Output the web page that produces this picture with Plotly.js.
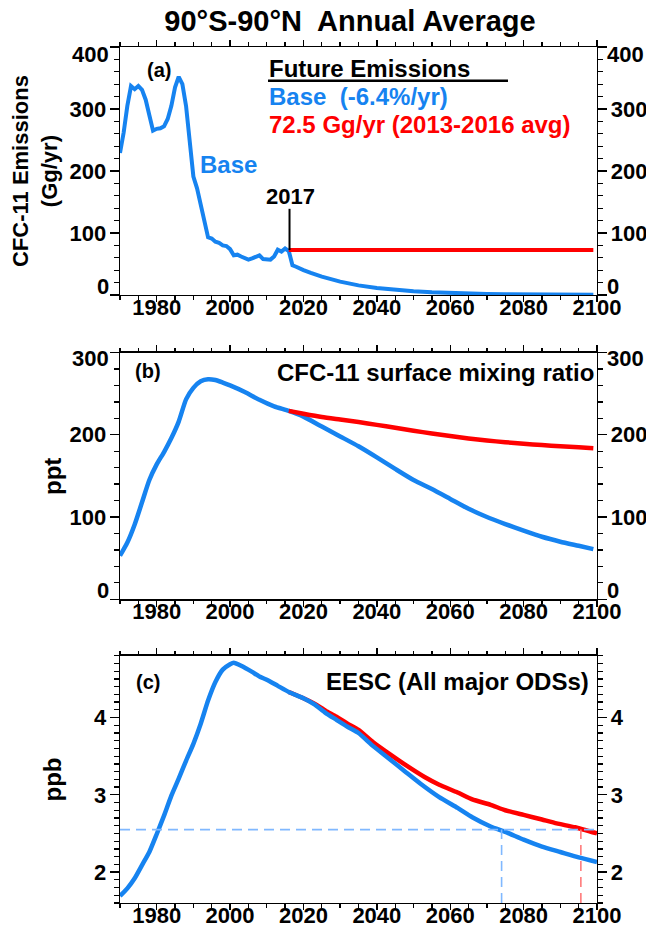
<!DOCTYPE html>
<html>
<head>
<meta charset="utf-8">
<script src="https://cdn.plot.ly/plotly-3.0.1.min.js"></script>
<style>html,body{margin:0;padding:0;background:#fff;}</style>
</head>
<body>
<div id="chart" style="width:646px;height:926px;"></div>
<script>
// ---------- DATA ----------
// (a) CFC-11 emissions, Gg/yr (Base scenario incl. history)
const emisYears = [1970,1971,1972,1973,1974,1975,1976,1977,1978,1979,1980,1981,1982,1983,1984,1985,1986,1987,1988,1989,
  1990,1991,1992,1993,1994,1995,1996,1997,1998,1999,2000,2001,2002,2003,2004,2005,2006,2007,2008,2009,2010,2011,2012,2013,2014,2015,2016,
  2017,2018,2019,2020,2022,2025,2030,2035,2040,2045,2050,2055,2060,2065,2070,2075,2080,2085,2090,2095,2099];
const emisBase = [229,262,305,337,332,337,331,315,290,265,268,269,272,284,305,335,352,340,305,250,
  191,172,147,117,93,91,86,84,80,79,74,64,65,62,60,57,59,61,64,58,57,57,62,73,70,75,71,
  48,45.5,42.5,40,35.5,29.5,21.5,15.5,11.3,8.2,6,4.3,3.1,2.3,1.7,1.2,0.9,0.6,0.45,0.3,0.2];
const emisFixedYears = [2016, 2099];
const emisFixed = [72.5, 72.5];

// (b) CFC-11 surface mixing ratio, ppt
const mrYears = [1970,1972,1974,1976,1978,1980,1982,1984,1986,1988,1990,1992,1994,1996,1998,2000,2004,2008,2012,2016,
  2020,2025,2030,2035,2040,2045,2050,2055,2060,2065,2070,2075,2080,2085,2090,2095,2099];
const mrBase = [53,69,91,118,145,164,179,196,216,243,257,265,267.5,266.5,263.5,260,252,242.5,234.5,229,
  222,210,198,186,172.5,158.5,145,134,122,110,100,91.5,83.5,76,70,65,61];
const mrFixedYears = [2016,2020,2025,2030,2035,2040,2045,2050,2055,2060,2065,2070,2075,2080,2085,2090,2095,2099];
const mrFixed = [229,225.5,221.5,218.5,215.5,212,208.5,205,201.5,198.5,195.5,193,191,189,187.5,186,184.8,183.7];

// (c) EESC (all major ODSs), ppb
const eescYears = [1970,1972,1974,1976,1978,1980,1982,1984,1986,1988,1990,1992,1994,1996,1998,2000,2001,2003,2006,2008,2010,2013,2016,
  2020,2023,2026,2029,2032,2035,2039,2043,2048,2052,2057,2062,2066,2071,2075,2080,2085,2090,2095,2100];
const eescBase = [1.69,1.79,1.92,2.09,2.26,2.49,2.73,2.99,3.21,3.44,3.66,3.92,4.22,4.46,4.62,4.69,4.71,4.67,4.59,4.53,4.49,4.41,4.33,
  4.25,4.17,4.06,3.97,3.88,3.80,3.63,3.48,3.29,3.14,2.97,2.83,2.71,2.59,2.52,2.42,2.33,2.26,2.19,2.13];
const eescFixedYears = [2016,2020,2023,2026,2029,2032,2035,2039,2044,2048,2053,2057,2062,2066,2071,2075,2080,2085,2089,2094,2100];
const eescFixed = [4.33,4.25,4.18,4.09,4.01,3.92,3.84,3.68,3.51,3.38,3.23,3.13,3.03,2.94,2.87,2.80,2.74,2.68,2.63,2.58,2.50];

// 1980 EESC level and the years each scenario returns to it
const eesc1980Level = 2.55;
const returnYears = [2074, 2095.6];

// y tick values / labels (end labels are drawn nudged inward, as in the original)
const ticksA = [0, 100, 200, 300, 400];
const ticksB = [0, 100, 200, 300];

// ---------- STYLE ----------
const BLUE = '#1683f0';
const RED = '#ff0000';
const FONT = 'Liberation Sans, Arial, Helvetica, sans-serif';

const traces = [
  {x: emisYears, y: emisBase, xaxis:'x', yaxis:'y', mode:'lines', line:{color:BLUE, width:4}, hoverinfo:'skip'},
  {x: emisFixedYears, y: emisFixed, xaxis:'x', yaxis:'y', mode:'lines', line:{color:RED, width:4}, hoverinfo:'skip'},
  {x: mrYears, y: mrBase, xaxis:'x2', yaxis:'y3', mode:'lines', line:{color:BLUE, width:4.5, shape:'spline', smoothing:0.6}, hoverinfo:'skip'},
  {x: mrFixedYears, y: mrFixed, xaxis:'x2', yaxis:'y3', mode:'lines', line:{color:RED, width:4.5, shape:'spline', smoothing:0.6}, hoverinfo:'skip'},
  {x: eescFixedYears, y: eescFixed, xaxis:'x3', yaxis:'y5', mode:'lines', line:{color:RED, width:4.5, shape:'spline', smoothing:0.5}, hoverinfo:'skip'},
  {x: eescYears, y: eescBase, xaxis:'x3', yaxis:'y5', mode:'lines', line:{color:BLUE, width:4.5, shape:'spline', smoothing:0.5}, hoverinfo:'skip'},
  // helper traces (draw nothing) so the right-hand duplicate axes get their subplots
  {x: [emisYears[0]], y: [emisBase[0]], xaxis:'x', yaxis:'y2', mode:'none', hoverinfo:'skip'},
  {x: [mrYears[0]], y: [mrBase[0]], xaxis:'x2', yaxis:'y4', mode:'none', hoverinfo:'skip'},
  {x: [eescYears[0]], y: [eescBase[0]], xaxis:'x3', yaxis:'y6', mode:'none', hoverinfo:'skip'}
];

const tickFont = {family: FONT, size: 22, color: 'black', weight: 'bold'};

function xAx(anchor) {
  return {
    anchor: anchor, range: [1970, 2100], tick0: 1980, dtick: 20,
    ticks: 'outside', ticklen: 6, tickwidth: 1.3, tickcolor: 'black',
    showline: true, linewidth: 1.3, linecolor: 'black', mirror: 'ticks',
    showgrid: false, zeroline: false, tickfont: tickFont, ticklabelstandoff: -14,
    minor: {dtick: 5, ticklen: 3.5, tickwidth: 1.3, tickcolor: 'black', showgrid: false}
  };
}
function yAx(domain, range, tickvals, minorDtick, side, overlaying, anchor) {
  const a = {
    domain: domain, range: range,
    ticks: 'outside', ticklen: 9, tickwidth: 1.3, tickcolor: 'black',
    showline: true, linewidth: 1.3, linecolor: 'black',
    showgrid: false, zeroline: false, tickfont: tickFont, side: side, anchor: anchor,
    ticklabelstandoff: -1,
    minor: {tickmode: 'linear', tick0: 0, dtick: minorDtick, ticklen: 5, tickwidth: 1.3, tickcolor: 'black', showgrid: false}
  };
  if (Array.isArray(tickvals)) {
    a.tickmode = 'array';
    a.tickvals = tickvals;
    a.ticktext = tickvals.map((v, i) => (i === 0 || i === tickvals.length - 1) ? '' : String(v));
  } else {
    a.tick0 = 0; a.dtick = tickvals;
  }
  if (overlaying) a.overlaying = overlaying;
  return a;
}

const dA = [0.7103, 1.0], dB = [0.3548, 0.6431], dC = [0, 0.2889];

const annFont = (size, color) => ({family: FONT, size: size, color: color, weight: 'bold'});

// end-of-axis labels nudged inward (like the original figure)
const endLabels = [];
function addEnd(text, yPaper) {
  endLabels.push({xref:'paper', yref:'paper', x:-0.0215, y:yPaper, text:text, showarrow:false, xanchor:'right', yanchor:'middle', font: tickFont, borderpad:0});
  endLabels.push({xref:'paper', yref:'paper', x:1.0195, y:yPaper, text:text, showarrow:false, xanchor:'left', yanchor:'middle', font: tickFont, borderpad:0});
}
addEnd(String(ticksA[ticksA.length - 1]), 0.9918);
addEnd(String(ticksA[0]), 0.7205);
addEnd(String(ticksB[ticksB.length - 1]), 0.6359);
addEnd(String(ticksB[0]), 0.3650);

const layout = {
  width: 646, height: 926,
  margin: {l: 120, r: 49, t: 47, b: 23},
  paper_bgcolor: 'white', plot_bgcolor: 'white',
  showlegend: false,
  title: {text: '90°S-90°N\u00a0 Annual Average', font: annFont(29, 'black'),
          xref: 'container', yref: 'container', x: 0.5418, xanchor: 'center', y: 0.9773, yanchor: 'middle'},
  xaxis: xAx('y'),
  xaxis2: xAx('y3'),
  xaxis3: xAx('y5'),
  yaxis: yAx(dA, [0, 400], ticksA, 20, 'left', null, 'x'),
  yaxis2: yAx(dA, [0, 400], ticksA, 20, 'right', 'y', 'x'),
  yaxis3: yAx(dB, [0, 300], ticksB, 20, 'left', null, 'x2'),
  yaxis4: yAx(dB, [0, 300], ticksB, 20, 'right', 'y3', 'x2'),
  yaxis5: yAx(dC, [1.6, 4.8], 1, 0.1, 'left', null, 'x3'),
  yaxis6: yAx(dC, [1.6, 4.8], 1, 0.1, 'right', 'y5', 'x3'),
  shapes: [
    {type:'line', xref:'paper', yref:'paper', x0:0.3103, x1:0.8134, y0:0.9606, y1:0.9606, line:{color:'black', width:2.5}},
    {type:'line', xref:'x', yref:'y', x0:2016.2, x1:2016.2, y0:emisFixed[0], y1:139, line:{color:'black', width:2}},
    {type:'line', xref:'x3', yref:'y5', x0:1970, x1:2100, y0:eesc1980Level, y1:eesc1980Level, line:{color:'#80b8ff', width:1.6, dash:'10px,6px'}},
    {type:'line', xref:'x3', yref:'y5', x0:returnYears[0], x1:returnYears[0], y0:1.6, y1:eesc1980Level, line:{color:'#80b8ff', width:1.6, dash:'10px,6px'}},
    {type:'line', xref:'x3', yref:'y5', x0:returnYears[1], x1:returnYears[1], y0:1.6, y1:eesc1980Level, line:{color:'#ff7a7a', width:1.6, dash:'10px,6px'}}
  ],
  annotations: endLabels.concat([
    {xref:'paper', yref:'paper', x:-0.1782, y:0.8551, text:'CFC-11 Emissions<br>(Gg/yr)', textangle:-90, showarrow:false, xanchor:'center', yanchor:'middle', font: annFont(22,'black')},
    {xref:'paper', yref:'paper', x:-0.1426, y:0.4988, text:'ppt', textangle:-90, showarrow:false, xanchor:'center', yanchor:'middle', font: annFont(24,'black')},
    {xref:'paper', yref:'paper', x:-0.1426, y:0.1443, text:'ppb', textangle:-90, showarrow:false, xanchor:'center', yanchor:'middle', font: annFont(24,'black')},
    {xref:'paper', yref:'paper', x:0.0818, y:0.9731, text:'(a)', showarrow:false, xanchor:'center', yanchor:'middle', font: annFont(20,'black')},
    {xref:'paper', yref:'paper', x:0.0597, y:0.6215, text:'(b)', showarrow:false, xanchor:'center', yanchor:'middle', font: annFont(20,'black')},
    {xref:'paper', yref:'paper', x:0.0577, y:0.2582, text:'(c)', showarrow:false, xanchor:'center', yanchor:'middle', font: annFont(20,'black')},
    {xref:'paper', yref:'paper', x:0.3103, y:0.9743, text:'Future Emissions', showarrow:false, xanchor:'left', yanchor:'middle', font: annFont(24,'black'), borderpad:0},
    {xref:'paper', yref:'paper', x:0.3103, y:0.9416, text:'Base\u00a0 (-6.4%/yr)', showarrow:false, xanchor:'left', yanchor:'middle', font: annFont(24,BLUE), borderpad:0},
    {xref:'paper', yref:'paper', x:0.3103, y:0.9089, text:'72.5 Gg/yr (2013-2016 avg)', showarrow:false, xanchor:'left', yanchor:'middle', font: annFont(24,RED), borderpad:0},
    {xref:'paper', yref:'paper', x:0.2285, y:0.8633, text:'Base', showarrow:false, xanchor:'center', yanchor:'middle', font: annFont(24,BLUE)},
    {xref:'paper', yref:'paper', x:0.3564, y:0.8248, text:'2017', showarrow:false, xanchor:'center', yanchor:'middle', font: annFont(22,'black')},
    {xref:'paper', yref:'paper', x:0.9958, y:0.6203, text:'CFC-11 surface mixing ratio', showarrow:false, xanchor:'right', yanchor:'middle', font: annFont(24,'black'), borderpad:0},
    {xref:'paper', yref:'paper', x:0.9853, y:0.2582, text:'EESC (All major ODSs)', showarrow:false, xanchor:'right', yanchor:'middle', font: annFont(24,'black'), borderpad:0}
  ])
};

Plotly.newPlot('chart', traces, layout, {staticPlot: true, displayModeBar: false});
</script>
</body>
</html>
